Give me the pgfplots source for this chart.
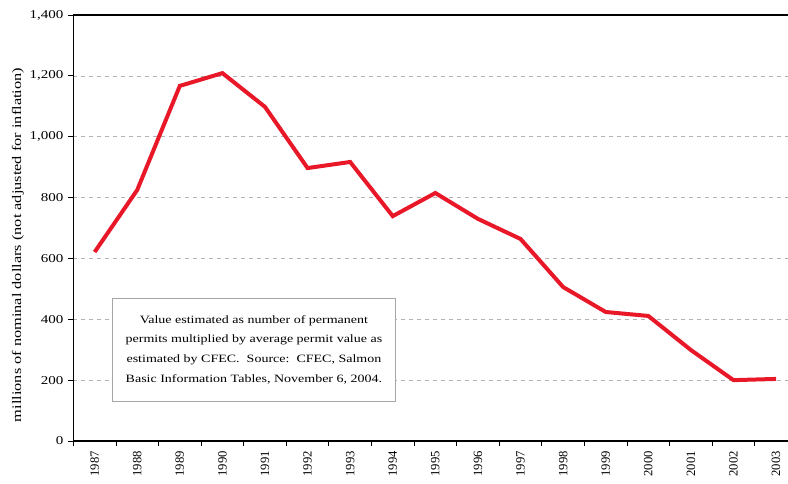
\documentclass[border=0pt]{standalone}
\usepackage{fontspec}
\setmainfont{Liberation Serif}
\newfontfamily\widefont[FakeStretch=1.25]{Liberation Serif}
\usepackage{pgfplots}
\pgfplotsset{compat=1.18}
\definecolor{permitred}{RGB}{232,24,40}

\begin{document}
\begin{tikzpicture}
  \begin{axis}[
      scale only axis,
      width=536pt, height=319.5pt,
      xmin=-0.5, xmax=16.28,
      ymin=0, ymax=1400,
      axis x line=box, axis y line=left,
      axis line style={black, line width=1pt, -},
      xtick={0,...,16},
      xticklabels={1987,1988,1989,1990,1991,1992,1993,1994,1995,1996,1997,1998,1999,2000,2001,2002,2003},
      major x tick style={draw=none},
      minor xtick={-0.5,0.5,...,15.5},
      minor tick length=4pt,
      x tick label style={rotate=90, anchor=east, font=\fontsize{9.5}{10}\selectfont},
      xtick pos=bottom,
      ytick={0,200,...,1400},
      ytick pos=left,
      tick align=outside,
      major tick length=4pt,
      tick style={black, line width=0.6pt},
      y tick label style={font=\widefont\fontsize{9}{10}\selectfont},
      /pgf/number format/assume math mode=true,
      /pgf/number format/1000 sep={,},
      ymajorgrids,
      grid style={gray!60, dashed, line width=0.5pt},
      ylabel={millions of nominal dollars (not adjusted for inflation)},
      ylabel style={at={(axis description cs:0,0.46)}, anchor=center,
                    yshift=41.5pt, font=\widefont\fontsize{9.8}{10}\selectfont},
      clip=false,
    ]
    \addplot[color=permitred, line width=3pt, line join=miter] coordinates {
      (0,621) (1,825) (2,1167) (3,1209) (4,1098) (5,897) (6,917) (7,739)
      (8,815) (9,730) (10,664) (11,506) (12,424) (13,411) (14,299) (15,200) (16,204)
    };
    \node[draw=gray!70, fill=white, line width=0.8pt, align=center,
          minimum width=212pt, minimum height=77pt,
          font=\widefont\fontsize{8.4}{14.8}\selectfont]
      at (axis cs:3.74,300)
      {Value estimated as number of permanent\\
       permits multiplied by average permit value as\\
       estimated by CFEC.\ \ Source:\ \ CFEC, Salmon\\
       Basic Information Tables, November 6, 2004.};
    \coordinate (bl) at (rel axis cs:0,0);
    \coordinate (tr) at (rel axis cs:1,1);
  \end{axis}
  \pgfresetboundingbox
  \path ([xshift=-55pt,yshift=-31.5pt]bl) rectangle ([yshift=11.25pt]tr);
\end{tikzpicture}
\end{document}
